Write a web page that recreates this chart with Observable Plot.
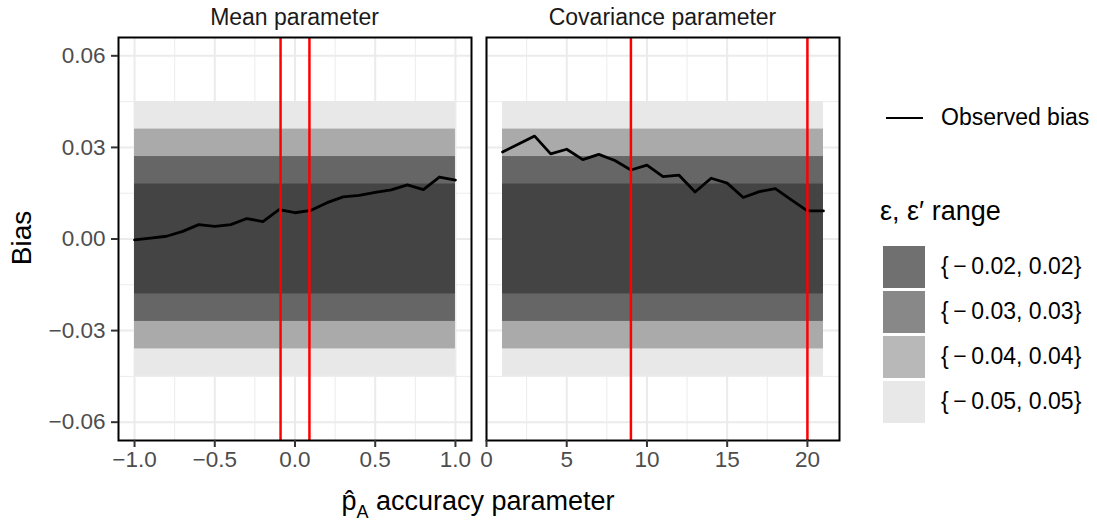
<!DOCTYPE html>
<html><head><meta charset="utf-8">
<script src="https://cdn.jsdelivr.net/npm/d3@7"></script>
<script src="https://cdn.jsdelivr.net/npm/@observablehq/plot@0.6"></script>
<style>
body{margin:0;background:#fff;font-family:"Liberation Sans",Arial,Helvetica,sans-serif;}
#wrap{position:relative;width:1097px;height:523px;overflow:hidden;background:#fff;}
.abs{position:absolute;white-space:nowrap;}
.strip{font-size:23px;color:#1a1a1a;text-align:center;line-height:34px;height:34px;top:0;width:353px;}
[aria-label="x-axis tick label"], [aria-label="y-axis tick label"]{fill:#4d4d4d;}
</style></head><body><div id="wrap"></div>
<script>
// ---- data ----
const meanX = [-1.0,-0.9,-0.8,-0.7,-0.6,-0.5,-0.4,-0.3,-0.2,-0.1,0.0,0.1,0.2,0.3,0.4,0.5,0.6,0.7,0.8,0.9,1.0];
const meanBias = [-0.0003,0.0003,0.0009,0.0025,0.0047,0.0041,0.0047,0.0067,0.0057,0.0096,0.0086,0.0094,0.0119,0.0138,0.0143,0.0153,0.0161,0.0177,0.0162,0.0203,0.0193];
const covX = [1,2,3,4,5,6,7,8,9,10,11,12,13,14,15,16,17,18,19,20,21];
const covBias = [0.0285,0.0311,0.0337,0.0279,0.0294,0.0260,0.0277,0.0257,0.0226,0.0242,0.0204,0.0209,0.0154,0.0199,0.0183,0.0136,0.0155,0.0165,0.0128,0.0092,0.0092];
const meanCutoffs = [-0.09, 0.09];
const covCutoffs = [9, 20];
const panelTitles = ["Mean parameter", "Covariance parameter"];
const bandLabels = ["{\u2009\u2212\u20090.02, 0.02}", "{\u2009\u2212\u20090.03, 0.03}", "{\u2009\u2212\u20090.04, 0.04}", "{\u2009\u2212\u20090.05, 0.05}"];
const bandHalfWidths = [0.018, 0.027, 0.036, 0.045];
const yTicks = [-0.06, -0.03, 0, 0.03, 0.06];
const yMinor = [-0.045, -0.015, 0.015, 0.045];
const meanTicks = [-1, -0.5, 0, 0.5, 1];
const meanMinor = [-0.75, -0.25, 0.25, 0.75];
const covTicks = [0, 5, 10, 15, 20];
const covMinor = [2.5, 7.5, 12.5, 17.5];
const lineLegendLabel = "Observed bias";
const bandLegendTitle = "\u03b5, \u03b5\u2032 range";
const yTitle = "Bias";

// ---- styles ----
const plotBandColors = ["#444444", "#666666", "#aaaaaa", "#e8e8e8"];
const legendBandColors = ["#707070", "#888888", "#b8b8b8", "#e8e8e8"];
const font = '"Liberation Sans", Arial, Helvetica, sans-serif';

function panel({xs, ys, cuts, ticks, minor, xDomain, fmt, showY, width, marginLeft}) {
  const x1 = d3.min(xs), x2 = d3.max(xs);
  const bands = bandHalfWidths.map((h, i) => ({label: bandLabels[i], x1, x2, y1: -h, y2: h})).reverse();
  const pts = xs.map((x, i) => ({x, y: ys[i]}));
  const marks = [
    Plot.ruleX(minor, {stroke: "#ececec", strokeWidth: 1}),
    Plot.ruleY(yMinor, {stroke: "#ececec", strokeWidth: 1}),
    Plot.ruleX(ticks, {stroke: "#ebebeb", strokeWidth: 2}),
    Plot.ruleY(yTicks, {stroke: "#ebebeb", strokeWidth: 2}),
    Plot.rect(bands, {x1: "x1", x2: "x2", y1: "y1", y2: "y2", fill: "label"}),
    Plot.line(pts, {x: "x", y: "y", stroke: "black", strokeWidth: 2.8}),
    Plot.ruleX(cuts, {stroke: "#ff0000", strokeWidth: 2.5}),
    Plot.frame({stroke: "black", strokeWidth: 2}),
    Plot.axisX({ticks, tickSize: 7, tickPadding: 4, tickFormat: fmt, stroke: "#333", strokeWidth: 2, label: null})
  ];
  if (showY) marks.push(Plot.axisY({ticks: yTicks, tickSize: 7, tickPadding: 6, tickFormat: d3.format(".2f"), stroke: "#333", strokeWidth: 2, label: null}));
  return Plot.plot({
    width, height: 480, marginLeft, marginRight: 7, marginTop: 37, marginBottom: 40,
    style: {fontSize: "22.5px", fontFamily: font, background: "transparent", overflow: "visible"},
    x: {domain: xDomain},
    y: {domain: [-0.066, 0.066], axis: showY ? undefined : null},
    color: {domain: bandLabels, range: plotBandColors},
    marks
  });
}

const wrap = document.getElementById("wrap");
const p1 = panel({xs: meanX, ys: meanBias, cuts: meanCutoffs, ticks: meanTicks, minor: meanMinor, xDomain: [-1.1, 1.1], fmt: d3.format(".1f"), showY: true, width: 478, marginLeft: 118});
const p2 = panel({xs: covX, ys: covBias, cuts: covCutoffs, ticks: covTicks, minor: covMinor, xDomain: [0, 22], fmt: d3.format("d"), showY: false, width: 368, marginLeft: 8});
p1.style.position = "absolute"; p1.style.left = "0px"; p1.style.top = "0px";
p2.style.position = "absolute"; p2.style.left = "478px"; p2.style.top = "0px";
wrap.appendChild(p1); wrap.appendChild(p2);

function add(html, cls, css) {
  const d = document.createElement("div");
  d.className = "abs " + (cls || "");
  d.innerHTML = html;
  Object.assign(d.style, css);
  wrap.appendChild(d);
  return d;
}
add(panelTitles[0], "strip", {left: "118px"});
add(panelTitles[1], "strip", {left: "486px"});
// y title
add(yTitle, "", {left: "22px", top: "238px", fontSize: "28px", color: "#000", transform: "translate(-50%,-50%) rotate(-90deg)", lineHeight: "28px"});
// x title
add('p\u0302<span style="font-size:18px;position:relative;top:8px;">A</span> accuracy parameter', "", {left: "478px", top: "488px", fontSize: "27px", lineHeight: "27px", color: "#000", transform: "translateX(-50%)"});
// legend: line
const lk = document.createElement("div");
lk.className = "abs";
Object.assign(lk.style, {left: "886px", top: "117px", width: "37px", height: "0px", borderTop: "2.6px solid #000"});
wrap.appendChild(lk);
add(lineLegendLabel, "", {left: "941px", top: "106px", fontSize: "23px", lineHeight: "23px", color: "#000"});
// legend: bands
add(bandLegendTitle, "", {left: "880px", top: "198px", fontSize: "27px", lineHeight: "27px", color: "#000"});
bandLabels.forEach((lab, i) => {
  const top = 245.5 + i * 45.1;
  const k = document.createElement("div");
  k.className = "abs";
  Object.assign(k.style, {left: "883px", top: top + "px", width: "42px", height: "42px", background: legendBandColors[i]});
  wrap.appendChild(k);
  add(lab, "", {left: "941px", top: (top + 21 - 11.5) + "px", fontSize: "23px", lineHeight: "23px", color: "#000"});
});
</script>
</body></html>
